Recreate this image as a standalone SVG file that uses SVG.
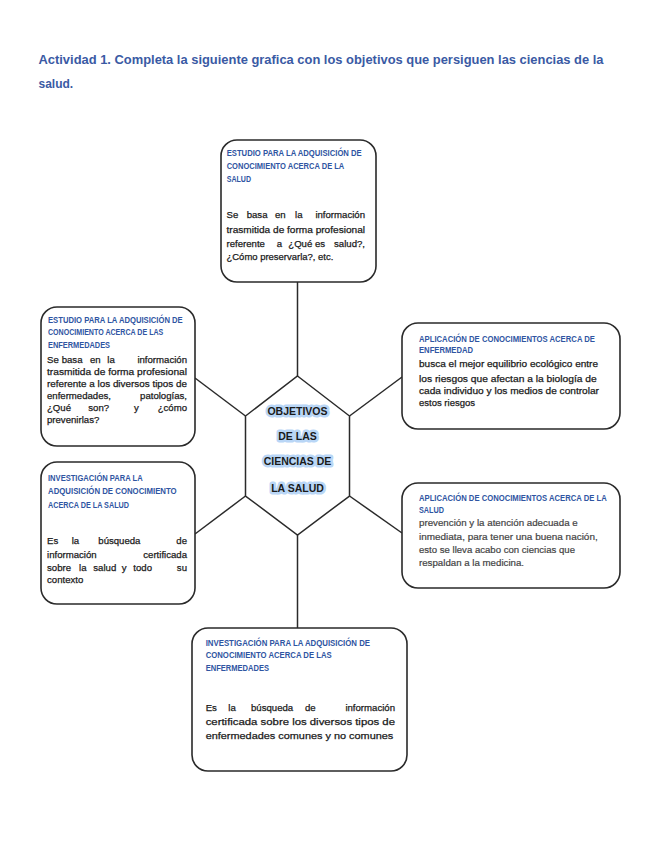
<svg xmlns="http://www.w3.org/2000/svg" width="655" height="848" viewBox="0 0 655 848">
<style>
.title{font-family:"Liberation Sans",Arial,sans-serif;font-weight:bold;font-size:12px;fill:#3a5aa4}
.box{fill:#fff;stroke:#2a2a2a;stroke-width:1.6}
.hd{font-family:"Liberation Sans",Arial,sans-serif;font-weight:bold;font-size:8.4px;fill:#2f55a2}
.bd{font-family:"Liberation Sans",Arial,sans-serif;font-size:9.6px;fill:#1a1a1a;stroke:#1a1a1a;stroke-width:0.25}
.bg{font-family:"Liberation Sans",Arial,sans-serif;font-size:9.6px;fill:#444;stroke:#444;stroke-width:0.2}
.e{text-anchor:end}
.ctr{font-family:"Liberation Sans",Arial,sans-serif;font-weight:bold;font-size:10.5px;fill:#1a1a1a;text-anchor:middle;paint-order:stroke;stroke:#b9d6f6;stroke-width:5;stroke-linejoin:round}
.ln{fill:none;stroke:#2a2a2a;stroke-width:1.5}
</style>
<rect width="655" height="848" fill="#fff"/>
<text class="title" x="38.5" y="63.5" textLength="565" lengthAdjust="spacingAndGlyphs">Actividad 1. Completa la siguiente grafica con los objetivos que persiguen las ciencias de la</text>
<text class="title" x="38.5" y="87.5">salud.</text>

<g id="connectors">
<path class="ln" d="M297.5 282 V376"/>
<path class="ln" d="M297.5 535 V628"/>
<path class="ln" d="M245.5 416 L195 378"/>
<path class="ln" d="M349.5 416 L402 377"/>
<path class="ln" d="M245.5 496 L195 534"/>
<path class="ln" d="M349.5 496 L402 533"/>
</g>

<g id="center">
<polygon points="297.5,376 349.5,416 349.5,496 297.5,535 245.5,496 245.5,416" fill="#fff" stroke="#2a2a2a" stroke-width="1.5"/>
<text class="ctr" x="297.5" y="414.5">OBJETIVOS</text>
<text class="ctr" x="297.5" y="440">DE LAS</text>
<text class="ctr" x="297.5" y="465">CIENCIAS DE</text>
<text class="ctr" x="297.5" y="491.5">LA SALUD</text>
</g>

<g id="top">
<rect class="box" x="221" y="140" width="155" height="142" rx="16"/>
<text class="hd" x="226.7" y="155.7" textLength="135" lengthAdjust="spacingAndGlyphs">ESTUDIO PARA LA ADQUISICIÓN DE</text>
<text class="hd" x="226.7" y="169" textLength="117.6" lengthAdjust="spacingAndGlyphs">CONOCIMIENTO ACERCA DE LA</text>
<text class="hd" x="226.7" y="181.7" textLength="24.3" lengthAdjust="spacingAndGlyphs">SALUD</text>
<text class="bd" y="218.3"><tspan x="226.5">Se</tspan><tspan x="246.7">basa</tspan><tspan x="275">en</tspan><tspan x="295">la</tspan></text>
<text class="bd e" x="365" y="218.3">información</text>
<text class="bd" x="226.5" y="232.7" textLength="138.5" lengthAdjust="spacingAndGlyphs">trasmitida de forma profesional</text>
<text class="bd" y="246.7"><tspan x="226.5">referente</tspan><tspan x="276.7">a</tspan><tspan x="288.3">¿Qué</tspan><tspan x="315">es</tspan></text>
<text class="bd e" x="365" y="246.7">salud?,</text>
<text class="bd" x="226.5" y="260" textLength="106.8" lengthAdjust="spacingAndGlyphs">¿Cómo preservarla?, etc.</text>
</g>

<g id="left-top">
<rect class="box" x="41" y="307" width="154" height="139" rx="16"/>
<text class="hd" x="48" y="322.7" textLength="134.7" lengthAdjust="spacingAndGlyphs">ESTUDIO PARA LA ADQUISICIÓN DE</text>
<text class="hd" x="48" y="335" textLength="115.3" lengthAdjust="spacingAndGlyphs">CONOCIMIENTO ACERCA DE LAS</text>
<text class="hd" x="48" y="348.3" textLength="62" lengthAdjust="spacingAndGlyphs">ENFERMEDADES</text>
<text class="bd" y="362.7"><tspan x="47">Se</tspan><tspan x="61.7">basa</tspan><tspan x="90">en</tspan><tspan x="107.3">la</tspan></text>
<text class="bd e" x="187" y="362.7">información</text>
<text class="bd" x="47" y="375" textLength="140" lengthAdjust="spacingAndGlyphs">trasmitida de forma profesional</text>
<text class="bd" x="47" y="387.3" textLength="140" lengthAdjust="spacingAndGlyphs">referente a los diversos tipos de</text>
<text class="bd" x="47" y="399">enfermedades,</text>
<text class="bd e" x="187" y="399">patologías,</text>
<text class="bd" y="411"><tspan x="47">¿Qué</tspan><tspan x="88.3">son?</tspan><tspan x="134">y</tspan></text>
<text class="bd e" x="187" y="411">¿cómo</text>
<text class="bd" x="47" y="423">prevenirlas?</text>
</g>

<g id="right-top">
<rect class="box" x="402" y="323" width="218" height="106" rx="16"/>
<text class="hd" x="419" y="341.7" textLength="176" lengthAdjust="spacingAndGlyphs">APLICACIÓN DE CONOCIMIENTOS ACERCA DE</text>
<text class="hd" x="419" y="353.3" textLength="54" lengthAdjust="spacingAndGlyphs">ENFERMEDAD</text>
<text class="bd" x="419" y="367.3" textLength="179" lengthAdjust="spacingAndGlyphs">busca el mejor equilibrio ecológico entre</text>
<text class="bd" x="419" y="381.7" textLength="177.7" lengthAdjust="spacingAndGlyphs">los riesgos que afectan a la biología de</text>
<text class="bd" x="419" y="394" textLength="180" lengthAdjust="spacingAndGlyphs">cada individuo y los medios de controlar</text>
<text class="bd" x="419" y="406" textLength="56" lengthAdjust="spacingAndGlyphs">estos riesgos</text>
</g>

<g id="left-bottom">
<rect class="box" x="41" y="462" width="154" height="142" rx="16"/>
<text class="hd" x="48" y="481" textLength="94.7" lengthAdjust="spacingAndGlyphs">INVESTIGACIÓN PARA LA</text>
<text class="hd" x="48" y="494.3" textLength="128.7" lengthAdjust="spacingAndGlyphs">ADQUISICIÓN DE CONOCIMIENTO</text>
<text class="hd" x="48" y="507.7" textLength="81" lengthAdjust="spacingAndGlyphs">ACERCA DE LA SALUD</text>
<text class="bd" y="544.3"><tspan x="47">Es</tspan><tspan x="71.7">la</tspan><tspan x="98.3">búsqueda</tspan></text>
<text class="bd e" x="187" y="544.3">de</text>
<text class="bd" x="47" y="557.7">información</text>
<text class="bd e" x="187" y="557.7">certificada</text>
<text class="bd" y="571"><tspan x="47">sobre</tspan><tspan x="79">la</tspan><tspan x="93.3">salud</tspan><tspan x="121.7">y</tspan><tspan x="133.3">todo</tspan></text>
<text class="bd e" x="187" y="571">su</text>
<text class="bd" x="47" y="583.3">contexto</text>
</g>

<g id="right-bottom">
<rect class="box" x="402" y="483" width="218" height="105" rx="16"/>
<text class="hd" x="419" y="500.7" textLength="187.7" lengthAdjust="spacingAndGlyphs">APLICACIÓN DE CONOCIMIENTOS ACERCA DE LA</text>
<text class="hd" x="419" y="512.7" textLength="25" lengthAdjust="spacingAndGlyphs">SALUD</text>
<text class="bg" x="419" y="526" textLength="158.7" lengthAdjust="spacingAndGlyphs">prevención y la atención adecuada e</text>
<text class="bg" x="419" y="540" textLength="178.7" lengthAdjust="spacingAndGlyphs">inmediata, para tener una buena nación,</text>
<text class="bg" x="419" y="553.3" textLength="156" lengthAdjust="spacingAndGlyphs">esto se lleva acabo con ciencias que</text>
<text class="bg" x="419" y="566" textLength="105" lengthAdjust="spacingAndGlyphs">respaldan a la medicina.</text>
</g>

<g id="bottom">
<rect class="box" x="192" y="628" width="215" height="143" rx="16"/>
<text class="hd" x="205.7" y="646" textLength="164.3" lengthAdjust="spacingAndGlyphs">INVESTIGACIÓN PARA LA ADQUISICIÓN DE</text>
<text class="hd" x="205.7" y="658.3" textLength="126" lengthAdjust="spacingAndGlyphs">CONOCIMIENTO ACERCA DE LAS</text>
<text class="hd" x="205.7" y="670.7" textLength="63.3" lengthAdjust="spacingAndGlyphs">ENFERMEDADES</text>
<text class="bd" y="710.7"><tspan x="205.7">Es</tspan><tspan x="228.3">la</tspan><tspan x="251">búsqueda</tspan><tspan x="305">de</tspan></text>
<text class="bd e" x="395" y="710.7">información</text>
<text class="bd" x="205.7" y="725" textLength="189.3" lengthAdjust="spacingAndGlyphs">certificada sobre los diversos tipos de</text>
<text class="bd" x="205.7" y="739.3" textLength="187.6" lengthAdjust="spacingAndGlyphs">enfermedades comunes y no comunes</text>
</g>
</svg>
